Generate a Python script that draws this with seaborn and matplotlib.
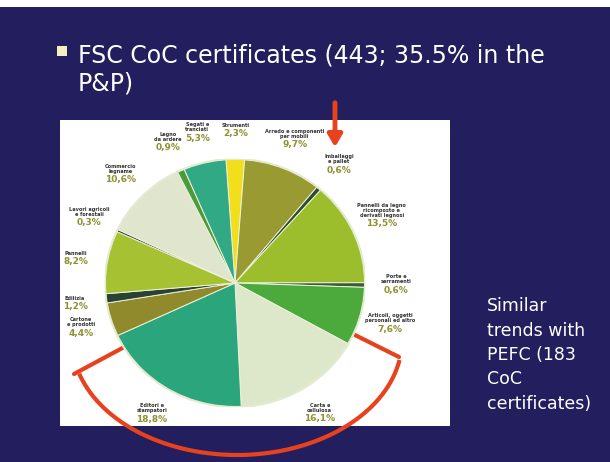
import numpy as np
import matplotlib
matplotlib.use("Agg")
import matplotlib.pyplot as plt
import seaborn as sns

# slide text
title_lines = ["FSC CoC certificates (443; 35.5% in the", "P&P)"]
side_text = ["Similar", "trends with", "PEFC (183", "CoC", "certificates)"]

# pie data, clockwise from the top
sectors = [
    "Strumenti", "Arredo e componenti\nper mobili", "Imballaggi\ne pallet",
    "Pannelli da legno\nricomposto e\nderivati legnosi", "Porte e\nserramenti",
    "Articoli, oggetti\npersonali ed altro", "Carta e\ncellulosa",
    "Editori e\nstampatori", "Cartone\ne prodotti", "Edilizia", "Pannelli",
    "Lavori agricoli\ne forestali", "Commercio\nlegname", "Legno\nda ardere",
    "Segati e\ntranciati",
]
shares = [2.3, 9.7, 0.6, 13.5, 0.6, 7.6, 16.1, 18.8, 4.4, 1.2, 8.2, 0.3, 10.6, 0.9, 5.3]
sector_colors = [
    "#f1df1c", "#999a32", "#2f4a2c", "#9cbd2c", "#3b5b32", "#4caa3c", "#dde7c9",
    "#2ba67c", "#908a2c", "#2a4232", "#a6c232", "#3b4b32", "#dfe6cd", "#4b9b3c",
    "#31a984",
]

navy = "#231f5e"
sns.set_theme(style="white")
plt.rcParams["font.family"] = ["DejaVu Sans"]

fig = plt.figure(figsize=(6.1, 4.62), dpi=100, facecolor=navy)

# full-page overlay in pixel units
bg = fig.add_axes([0, 0, 1, 1])
bg.set_xlim(0, 610)
bg.set_ylim(462, 0)
bg.axis("off")
bg.add_patch(plt.Rectangle((0, 0), 610, 7, color="white", lw=0))
bg.add_patch(plt.Rectangle((60, 120), 390, 306, color="white", lw=0))

# title with bullet
bg.add_patch(plt.Rectangle((57, 46), 10, 10, color="#f4efbf", lw=0))
bg.text(78, 62, title_lines[0], color="white", fontsize=17, va="baseline")
bg.text(78, 91, title_lines[1], color="white", fontsize=17, va="baseline")

# side note
for i, line in enumerate(side_text):
    bg.text(487, 311 + i * 24.5, line, color="white", fontsize=12.5, va="baseline")

# pie
cx, cy, rx, ry = 235, 283, 130, 124
ax = fig.add_axes([(cx - rx) / 610, (462 - cy - ry) / 462, 2 * rx / 610, 2 * ry / 462])
ax.pie(shares, colors=sector_colors, startangle=94, counterclock=False,
       wedgeprops=dict(edgecolor="#eef2dc", linewidth=0.7))
ax.add_patch(plt.Circle((0, 0), 1.0, fill=False, ec="#e3ead0", lw=1.5))
ax.set_aspect("auto")
ax.set_xlim(-1, 1)
ax.set_ylim(-1, 1)
ax.axis("off")

total = sum(shares)
cum = np.cumsum([0] + shares[:-1])
for name, val, c0 in zip(sectors, shares, cum):
    ang = np.deg2rad(94 - 360 * (c0 + val / 2) / total)
    x, y = 1.24 * np.cos(ang), 1.24 * np.sin(ang)
    ax.text(x, y + 0.01, name, ha="center", va="bottom", fontsize=3.6,
            fontweight="bold", color="#333333", linespacing=1.0, clip_on=False)
    ax.text(x, y, f"{val:.1f}%".replace(".", ","), ha="center", va="top",
            fontsize=6.5, fontweight="bold", color="#8e9130", clip_on=False)

# red highlight marks
red = "#e8411d"
bg.annotate("", xy=(335, 150), xytext=(335, 100),
            arrowprops=dict(arrowstyle="-|>,head_width=0.35,head_length=0.6",
                            color=red, lw=3.5))
t = np.deg2rad(np.linspace(10, 163, 200))
bg.plot(237 + 165 * np.cos(t), 340 + 115 * np.sin(t), color=red, lw=3,
        solid_capstyle="butt")
bg.plot([128, 74], [345, 374], color=red, lw=3)
bg.plot([355, 399], [335, 357], color=red, lw=3)

fig.savefig("out.png", dpi=100, facecolor=navy)
